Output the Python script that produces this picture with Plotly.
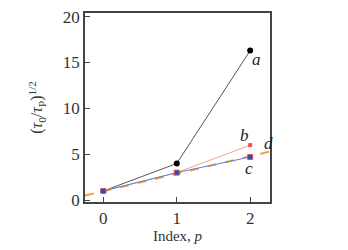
import plotly.graph_objects as go

p = [0, 1, 2]
a_vals = [1.0, 4.0, 16.3]
b_vals = [1.0, 3.0, 6.0]
c_vals = [1.0, 3.0, 4.7]
d_x = [-0.25, 2.27]
d_vals = [0.5, 5.3]

serif = "Liberation Serif"
fig = go.Figure()
fig.add_trace(go.Scatter(x=p, y=a_vals, mode="lines+markers",
                         line=dict(color="#555555", width=1),
                         marker=dict(color="black", size=6)))
fig.add_trace(go.Scatter(x=d_x, y=d_vals, mode="lines",
                         line=dict(color="#f0a040", width=2, dash="dash")))
fig.add_trace(go.Scatter(x=p, y=b_vals, mode="lines+markers",
                         line=dict(color="#f8a090", width=1),
                         marker=dict(color="#f05050", size=4, symbol="square")))
fig.add_trace(go.Scatter(x=p, y=c_vals, mode="lines+markers",
                         line=dict(color="#6080e0", width=1),
                         marker=dict(color="#2050c0", size=5, symbol="square",
                                     line=dict(color="#e05060", width=1))))

for txt, x, y in [("a", 2.09, 15.3), ("b", 1.92, 7.0), ("c", 1.98, 3.5), ("d", 2.25, 6.2)]:
    fig.add_annotation(x=x, y=y, text=f"<i>{txt}</i>", showarrow=False,
                       font=dict(family=serif, size=17, color="#222"))

fig.update_layout(
    width=348, height=250, margin=dict(l=85, r=78, t=8, b=44),
    showlegend=False, plot_bgcolor="white", paper_bgcolor="white",
    font=dict(family=serif, size=17, color="#333"),
)
fig.update_xaxes(range=[-0.25, 2.27], tickvals=[0, 1, 2], ticks="inside", ticklen=5,
                 showline=True, mirror=True, linecolor="#444", linewidth=1.5,
                 showgrid=False, zeroline=False,
                 title=dict(text="Index, <i>p</i>", standoff=3, font=dict(size=15)))
fig.update_yaxes(range=[-0.2, 20.4], tickvals=[0, 5, 10, 15, 20], ticks="inside", ticklen=5,
                 showline=True, mirror=True, linecolor="#444", linewidth=1.5,
                 showgrid=False, zeroline=False,
                 title=dict(text="(<i>τ</i><sub>0</sub>/<i>τ</i><sub>P</sub>)<sup>1/2</sup>",
                            standoff=16, font=dict(size=16)))
fig.write_html("out.html")
